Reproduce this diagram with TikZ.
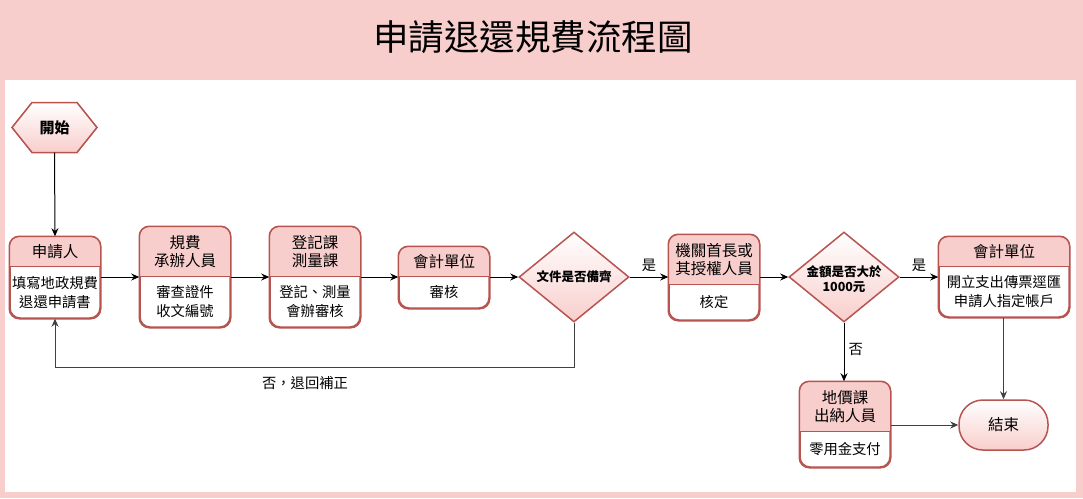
\documentclass[tikz,border=0pt]{standalone}
\usepackage{fontspec}
\setmainfont{Noto Sans CJK TC}
\usetikzlibrary{shapes.geometric,arrows.meta,calc}
\definecolor{pk}{HTML}{F8CECC}
\definecolor{bd}{HTML}{B85450}
\tikzset{
  bord/.style={draw=bd, line width=1.5pt},
  pb/.style={bord, fill=white, rounded corners=10pt, inner sep=0pt},
  htxt/.style={font=\fontsize{15.5}{18}\selectfont, align=center, inner sep=0pt},
  btxt/.style={font=\fontsize{14.3}{19}\selectfont, align=center, inner sep=0pt},
  dtxt/.style={font=\bfseries\fontsize{12.5}{15}\selectfont, align=center},
  grad/.style={top color=white, bottom color=pk},
  dia/.style={diamond, bord, grad, inner sep=0pt, minimum width=110pt, minimum height=90pt, aspect=1.22},
  arr/.style={-{Stealth[length=8pt,width=7pt]}, line width=1pt, black},
  garr/.style={arr, black!75},
  lbl/.style={font=\fontsize{14.3}{16}\selectfont, inner sep=1pt}
}
% name, cx, cy, w, h, header height, header, body
\newcommand\pbox[8]{%
  \node[pb, minimum width=#4pt, minimum height=#5pt] (#1) at (#2,#3) {};
  \fill[pk, rounded corners=9pt] ($(#1.north west)+(0.75,0.75)$) rectangle ($(#1.north east)+(-0.75,#6)$);
  \fill[pk] ($(#1.north west)+(0.75,12)$) rectangle ($(#1.north east)+(-0.75,#6)$);
  \draw[bd, line width=1.5pt] ($(#1.north west)+(0,#6)$) -- ($(#1.north east)+(0,#6)$);
  \draw[bord, rounded corners=10pt] (#1.north west) rectangle (#1.south east);
  \node[htxt] (#1h) at ($(#1.north)+(0,#6/2)$) {#7};
  \node[btxt] (#1b) at ($(#1.south)!0.5!(#1.north)+(0,#6/2)$) {#8};
}
\begin{document}
\begin{tikzpicture}[x=1pt,y=-1pt]
\useasboundingbox (0,0) rectangle (1083,498);
\fill[pk] (0,0) rectangle (1083,498);
\fill[white] (5,80) rectangle (1076,492);
\node[font=\fontsize{35.5}{40}\selectfont, inner sep=0pt] (title) at (533,37) {申請退還規費流程圖};

% start hexagon
\path[bord, grad] (12,127.5) -- (32,102.5) -- (77,102.5) -- (97,127.5) -- (77,152.5) -- (32,152.5) -- cycle;
\node[minimum width=85pt, minimum height=50pt, inner sep=0pt, font=\bfseries\fontsize{15}{18}\selectfont] (start) at (54.5,127.5) {開始};

\pbox{app}{55}{277.5}{90}{81}{30}{申請人}{填寫地政規費\\退還申請書}
\pbox{clerk}{185}{277}{90}{100}{50}{規費\\承辦人員}{審查證件\\收文編號}
\pbox{reg}{315}{277}{90}{100}{50}{登記課\\測量課}{登記、測量\\會辦審核}
\pbox{acc}{444}{277.5}{90}{61}{30}{會計單位}{審核}
\node[dia] (d1) at (574,277) {};
\node[dtxt] (d1t) at (574,277) {文件是否備齊};
\pbox{chief}{714}{277.5}{90}{85}{50}{機關首長或\\其授權人員}{核定}
\node[dia] (d2) at (844,277) {};
\node[dtxt] (d2t) at (844,279) {金額是否大於\\1000元};
\pbox{accb}{1004}{277}{130}{80}{30}{會計單位}{開立支出傳票逕匯\\申請人指定帳戶}
\pbox{cash}{845}{424.5}{90}{85}{50}{地價課\\出納人員}{零用金支付}
\node[bord, grad, rounded corners=24pt, minimum width=89pt, minimum height=50pt, inner sep=0pt, font=\fontsize{15.5}{18}\selectfont] (end) at (1003.5,425) {結束};

% connectors
\draw[arr] (start.south) -- (app.north);
\draw[arr] (app.east |- 0,277) -- (clerk.west |- 0,277);
\draw[arr] (clerk.east) -- (reg.west);
\draw[arr] (reg.east) -- (acc.west |- reg.east);
\draw[arr] (acc.east |- d1.west) -- (d1.west);
\draw[arr] (d1.east) -- (chief.west |- d1.east) node[lbl, pos=0.5, above=4pt] (yes1) {是};
\draw[arr] (chief.east |- d2.west) -- (d2.west);
\draw[arr] (d2.east) -- (accb.west |- d2.east) node[lbl, pos=0.5, above=4pt] (yes2) {是};
\draw[arr] (d2.south) -- (d2.south |- cash.north) node[lbl, pos=0.45, right=3pt] (no2) {否};
\draw[garr] (accb.south -| end.north) -- (end.north);
\draw[garr] (cash.east |- end.west) -- (end.west);
\draw[garr] (d1.south) -- (d1.south |- 0,367) -- (app.south |- 0,367) -- (app.south);
\node[lbl] (no1) at (305,383) {否，退回補正};
\end{tikzpicture}
\end{document}
